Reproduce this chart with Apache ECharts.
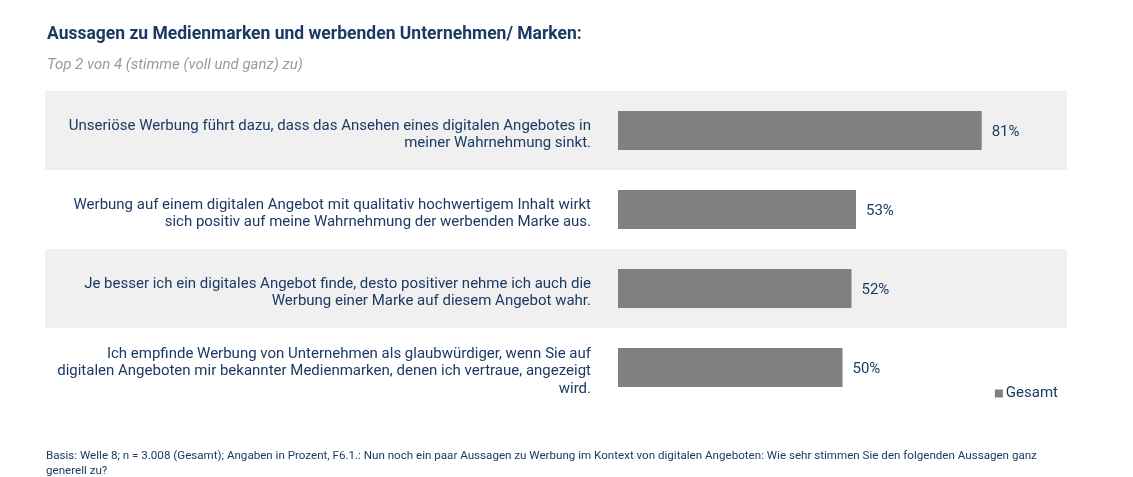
<!DOCTYPE html>
<html>
<head>
<meta charset="utf-8">
<script src="https://cdn.jsdelivr.net/npm/echarts@6/dist/echarts.min.js"></script>
<style>
  html, body { margin: 0; padding: 0; background: #fff; }
  #chart { width: 1133px; height: 477px; }
</style>
</head>
<body>
<div id="chart"></div>
<script>
// Aussagen (Zeilenumbrüche wie im Original)
var aussagen = [
  'Unseriöse Werbung führt dazu, dass das Ansehen eines digitalen Angebotes in\nmeiner Wahrnehmung sinkt.',
  'Werbung auf einem digitalen Angebot mit qualitativ hochwertigem Inhalt wirkt\nsich positiv auf meine Wahrnehmung der werbenden Marke aus.',
  'Je besser ich ein digitales Angebot finde, desto positiver nehme ich auch die\nWerbung einer Marke auf diesem Angebot wahr.',
  'Ich empfinde Werbung von Unternehmen als glaubwürdiger, wenn Sie auf\ndigitalen Angeboten mir bekannter Medienmarken, denen ich vertraue, angezeigt\nwird.'
];
var gesamt = [81, 53, 52, 50];
var serienName = 'Gesamt';

var titel = 'Aussagen zu Medienmarken und werbenden Unternehmen/ Marken:';
var untertitel = 'Top 2 von 4 (stimme (voll und ganz) zu)';
var basis = 'Basis: Welle 8; n = 3.008 (Gesamt); Angaben in Prozent, F6.1.: Nun noch ein paar Aussagen zu Werbung im Kontext von digitalen Angeboten: Wie sehr stimmen Sie den folgenden Aussagen ganz\ngenerell zu?';

var navy = '#1b3a64';
var chart = echarts.init(document.getElementById('chart'));

chart.setOption({
  backgroundColor: '#fff',
  animation: false,
  textStyle: { fontFamily: 'Roboto' },
  title: [
    { text: titel, left: 47, top: 26, padding: 0,
      textStyle: { fontSize: 17.5, fontWeight: 'bold', color: navy, fontFamily: 'Roboto' } },
    { text: untertitel, left: 47, top: 58, padding: 0,
      textStyle: { fontSize: 15, fontWeight: 'normal', fontStyle: 'italic', color: '#9a9a9a', fontFamily: 'Roboto' } },
    { text: basis, left: 46, top: 449, padding: 0,
      textStyle: { fontSize: 11.6, fontWeight: 'normal', color: navy, lineHeight: 15, fontFamily: 'Roboto' } }
  ],
  legend: {
    data: [serienName],
    right: 70, top: 381,
    icon: 'rect', itemWidth: 8, itemHeight: 8, itemGap: 5,
    textStyle: { fontSize: 15, color: navy, padding: [0, 0, 0, -2] }
  },
  grid: [
    // Hintergrundstreifen über die ganze Breite
    { left: 45, right: 66, top: 91, height: 316 },
    // Balken
    { left: 618, right: 66, top: 91, height: 316 },
    // Beschriftungen (leicht nach unten versetzt)
    { left: 618, right: 66, top: 95, height: 316 }
  ],
  xAxis: [
    { gridIndex: 0, type: 'value', show: false, min: 0, max: 1 },
    { gridIndex: 1, type: 'value', min: 0, max: 100, show: false },
    { gridIndex: 2, type: 'value', min: 0, max: 100, show: false }
  ],
  yAxis: [
    {
      gridIndex: 0, type: 'category', inverse: true, data: aussagen,
      axisLine: { show: false }, axisTick: { show: false }, axisLabel: { show: false },
      splitLine: { show: false },
      splitArea: { show: true, areaStyle: { color: ['#f0f0f0', '#ffffff'] } }
    },
    {
      gridIndex: 1, type: 'category', inverse: true, data: aussagen,
      axisLine: { show: false }, axisTick: { show: false }, axisLabel: { show: false },
      splitLine: { show: false }
    },
    {
      gridIndex: 2, type: 'category', inverse: true, data: aussagen,
      axisLine: { show: false }, axisTick: { show: false },
      splitLine: { show: false },
      axisLabel: { margin: 27, fontSize: 15, color: navy, lineHeight: 17.5, align: 'right' }
    }
  ],
  series: [{
    name: serienName,
    type: 'bar',
    xAxisIndex: 1, yAxisIndex: 1,
    data: gesamt,
    barWidth: 39,
    itemStyle: { color: '#808080' },
    label: {
      show: true, position: 'right', distance: 10, offset: [0, 2],
      formatter: '{c}%', fontSize: 15, color: navy
    }
  }]
});
</script>
</body>
</html>
